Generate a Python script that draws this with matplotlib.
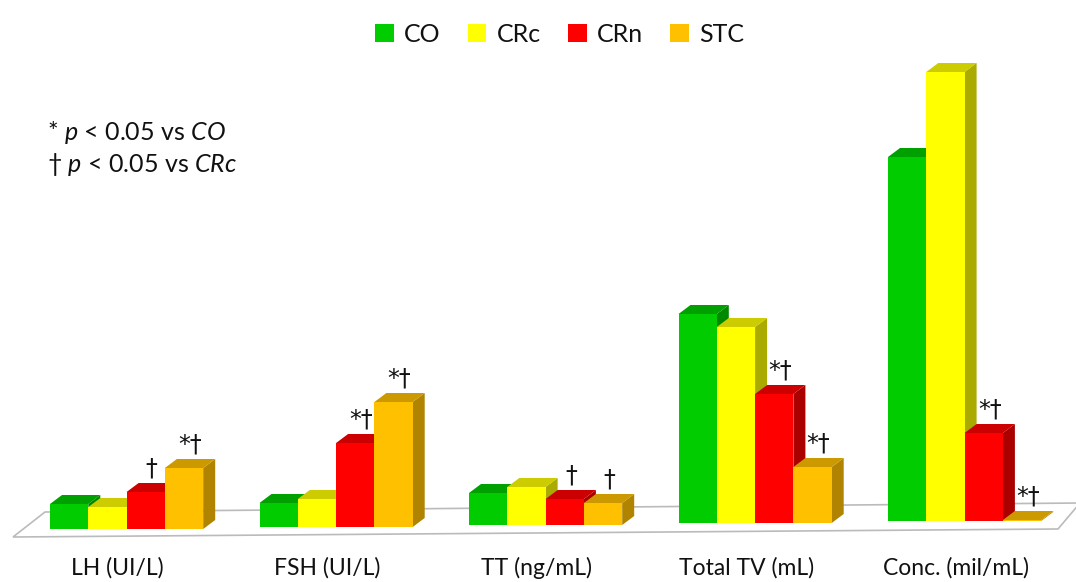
import matplotlib
matplotlib.use('Agg')
import numpy as np
from matplotlib import pyplot as plt
from matplotlib.patches import Polygon, Patch

plt.rcParams['font.family'] = ['Lato', 'DejaVu Sans']
plt.rcParams['mathtext.fontset'] = 'custom'
plt.rcParams['mathtext.it'] = 'Lato:italic'
plt.rcParams['mathtext.rm'] = 'Lato'
plt.rcParams['text.color'] = '#111111'

# data (arbitrary units)
categories = ['LH (UI/L)', 'FSH (UI/L)', 'TT (ng/mL)', 'Total TV (mL)', 'Conc. (mil/mL)']
groups = ['CO', 'CRc', 'CRn', 'STC']
CO = [25, 24, 32, 209, 364]
CRc = [22, 28, 38, 196, 449]
CRn = [37, 84, 26, 129, 88]
STC = [61, 125, 22, 56, 1]
marks_CRn = ['†', '*†', '†', '*†', '*†']
marks_STC = ['*†', '*†', '†', '*†', '*†']

series = [CO, CRc, CRn, STC]
front = ['#00cc00', '#ffff00', '#ff0000', '#ffc000']
top = ['#00a000', '#cccc00', '#cc0000', '#cc9a00']
side = ['#008800', '#aaaa00', '#aa0000', '#b08400']

fig = plt.figure(figsize=(10.76, 5.82), dpi=100)
ax = fig.add_axes([0, 0, 1, 1])
ax.set_xlim(0, 1076)
ax.set_ylim(0, 582)
ax.axis('off')

# layout in pixel-like units
x0, gap, w = 50, 209.5, 38.3
dx, dy = 12, 9
base0, tilt = 53, 2.0

# floor
floor = Polygon([(13, 45), (1058, 45 + 4 * tilt), (1080, 70 + 4 * tilt + 1), (45, 70)],
                closed=True, facecolor='white', edgecolor='#bbbbbb', lw=1.2, zorder=0)
ax.add_patch(floor)

for i in range(len(categories)):
    b = base0 + tilt * i
    for j, vals in enumerate(series):
        xl = x0 + i * gap + j * w
        xr = xl + w
        h = b + vals[i]
        z = 2 + j * 3
        ax.add_patch(Polygon([(xr, b), (xr + dx, b + dy), (xr + dx, h + dy), (xr, h)],
                             closed=True, facecolor=side[j], edgecolor='none', zorder=z))
        ax.add_patch(Polygon([(xl, h), (xl + dx, h + dy), (xr + dx, h + dy), (xr, h)],
                             closed=True, facecolor=top[j], edgecolor='none', zorder=z + 1))
        ax.bar(xl, vals[i], width=w, bottom=b, align='edge', color=front[j],
               edgecolor='none', zorder=z + 2)
    for j, m in ((2, marks_CRn[i]), (3, marks_STC[i])):
        xc = x0 + i * gap + j * w + w / 2 + dx / 2
        yt = b + series[j][i] + dy
        ax.annotate(m, (xc, yt), xytext=(0, 2), textcoords='offset points',
                    ha='center', va='bottom', fontsize=17, family='DejaVu Sans',
                    zorder=20)
    ax.text(x0 + i * gap + 2 * w - 9, 14, categories[i], ha='center', va='center',
            fontsize=16.5)

ax.text(47, 449, '* $\\mathit{p}$ < $\\mathit{0.05}$ vs $\\mathit{CO}$', fontsize=18, va='center')
ax.text(47, 417, '† $\\mathit{p}$ < $\\mathit{0.05}$ vs $\\mathit{CRc}$', fontsize=18, va='center')

handles = [Patch(facecolor=c, edgecolor='none') for c in front]
fig.legend(handles, groups, loc='upper center', bbox_to_anchor=(0.52, 1.0), ncol=4,
           frameon=False, fontsize=18, handlelength=0.75, handleheight=0.75,
           handletextpad=0.4, columnspacing=1.1)

fig.savefig('out.png', dpi=100)
